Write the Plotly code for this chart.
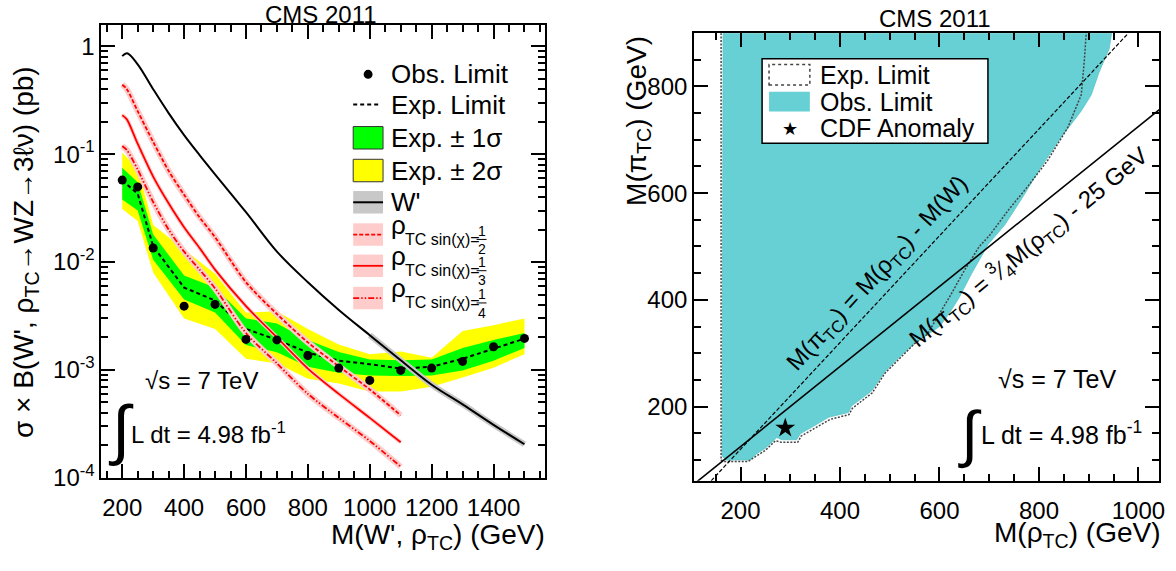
import plotly.graph_objects as go

W, H = 1176, 571
FONT = "Liberation Sans, Arial, Helvetica, sans-serif"

# ---------------- left panel data ----------------
mass = [200, 250, 300, 400, 500, 600, 700, 800, 900, 1000, 1100, 1200, 1300, 1400, 1500]
obs_limit = [0.0575, 0.0497, 0.0135, 0.0039, 0.00405, 0.00192, 0.0019, 0.00136, 0.00104,
             0.0008, 0.00099, 0.00104, 0.0012, 0.00164, 0.00196]
exp_limit = [0.057, 0.043, 0.014, 0.0058, 0.0044, 0.0024, 0.0019, 0.00145, 0.00122,
             0.00113, 0.00103, 0.00107, 0.00127, 0.00158, 0.00195]
exp_1s_lo = [0.038, 0.030, 0.0105, 0.0045, 0.0034, 0.0017, 0.00146, 0.00107, 0.00094,
             0.00089, 0.00088, 0.00089, 0.00099, 0.00122, 0.0016]
exp_1s_hi = [0.075, 0.055, 0.018, 0.0075, 0.0058, 0.0030, 0.0027, 0.0019, 0.00147,
             0.00125, 0.00123, 0.00125, 0.0016, 0.0019, 0.0022]
exp_2s_lo = [0.031, 0.024, 0.0080, 0.0030, 0.0024, 0.00127, 0.00115, 0.00083, 0.00075,
             0.00063, 0.00063, 0.0007, 0.00085, 0.00105, 0.0014]
exp_2s_hi = [0.103, 0.075, 0.022, 0.013, 0.0078, 0.0034, 0.0035, 0.0024, 0.00172,
             0.0014, 0.00148, 0.0013, 0.0023, 0.0026, 0.0030]

wprime_mass = [200, 216, 250, 300, 350, 400, 450, 500, 600, 700, 800, 900, 1000, 1100,
               1200, 1300, 1400, 1500]
wprime_xsec = [0.81, 0.86, 0.68, 0.40, 0.24, 0.15, 0.098, 0.065, 0.029, 0.0125, 0.0065,
               0.0036, 0.0021, 0.00123, 0.00073, 0.00048, 0.00031, 0.000205]

rho_mass = [200, 215, 250, 300, 350, 400, 450, 500, 600, 700, 800, 900, 1000, 1100]
rho_sin_half = [0.44, 0.40, 0.25, 0.13, 0.070, 0.042, 0.026, 0.017, 0.0065, 0.0033,
                0.0018, 0.00108, 0.00066, 0.00038]
rho_sin_third = [0.23, 0.21, 0.125, 0.062, 0.035, 0.021, 0.0135, 0.0085, 0.0039, 0.0020,
                 0.00103, 0.00060, 0.00036, 0.000214]
rho_sin_quarter = [0.119, 0.109, 0.072, 0.036, 0.020, 0.0125, 0.0085, 0.0057, 0.0022,
                   0.00115, 0.00060, 0.00036, 0.00022, 0.000127]

x_ticks_left = [200, 400, 600, 800, 1000, 1200, 1400]
y_ticks_left = [1e-4, 1e-3, 1e-2, 1e-1, 1]
y_ticktext_left = ["10<sup>-4</sup>", "10<sup>-3</sup>", "10<sup>-2</sup>", "10<sup>-1</sup>", "1"]

# ---------------- right panel data ----------------
obs_contour_rho = [165, 163, 170, 220, 230, 250, 273, 283, 313, 320, 350, 377, 417, 423,
                   463, 490, 523, 550, 600, 620, 640, 665, 698, 731, 765, 805, 845, 885,
                   905, 921, 941, 946, 165]
obs_contour_pi = [900, 108, 100, 100, 110, 122, 142, 138, 138, 149, 165, 180, 189, 201,
                  229, 265, 296, 318, 350, 375, 405, 450, 504, 540, 589, 650, 705, 754,
                  784, 827, 870, 900, 900]
exp_contour_rho = [161, 161, 168, 215, 228, 250, 270, 283, 315, 322, 350, 380, 418, 425,
                   465, 490, 523, 550, 575, 595, 620, 650, 680, 700, 740, 778, 818, 858,
                   885, 891, 895]
exp_contour_pi = [900, 100, 97, 97, 105, 118, 136, 133, 133, 145, 160, 176, 185, 197,
                  226, 262, 293, 318, 335, 365, 405, 455, 500, 520, 570, 613, 662, 723,
                  784, 846, 900]
mw_line_rho = [141, 980]
mw_line_pi = [61, 900]
frac_line_rho = [108, 1042]
frac_line_pi = [56, 756.5]
cdf_rho = [290]
cdf_pi = [160]

x_ticks_right = [200, 400, 600, 800, 1000]
y_ticks_right = [200, 400, 600, 800]


def fx(p):
    return p / W


def fy(p):
    return 1 - p / H


fig = go.Figure()

# ---- left panel traces ----
fig.add_trace(go.Scatter(x=mass + mass[::-1], y=exp_2s_hi + exp_2s_lo[::-1],
                         fill="toself", fillcolor="#ffff00", line=dict(width=0),
                         mode="lines", xaxis="x", yaxis="y", hoverinfo="skip"))
fig.add_trace(go.Scatter(x=mass + mass[::-1], y=exp_1s_hi + exp_1s_lo[::-1],
                         fill="toself", fillcolor="#00ff00", line=dict(width=0),
                         mode="lines", xaxis="x", yaxis="y", hoverinfo="skip"))
fig.add_trace(go.Scatter(x=mass, y=exp_limit, mode="lines",
                         line=dict(color="black", width=2, dash="4px,3px"),
                         xaxis="x", yaxis="y"))
# W' uncertainty band only visible at high mass
fig.add_trace(go.Scatter(x=wprime_mass[12:], y=wprime_xsec[12:], mode="lines",
                         line=dict(color="#c8c8c8", width=6, shape="spline", smoothing=0.8),
                         xaxis="x", yaxis="y"))
fig.add_trace(go.Scatter(x=wprime_mass, y=wprime_xsec, mode="lines",
                         line=dict(color="black", width=2, shape="spline", smoothing=1.0),
                         xaxis="x", yaxis="y"))
for vals, dash, pw in [(rho_sin_half, "4px,2px", 6), (rho_sin_third, "solid", 4),
                       (rho_sin_quarter, "6px,2px,1.5px,2px,1.5px,2px", 6)]:
    fig.add_trace(go.Scatter(x=rho_mass, y=vals, mode="lines",
                             line=dict(color="#ffcccc", width=pw, shape="spline", smoothing=0.8),
                             xaxis="x", yaxis="y"))
    fig.add_trace(go.Scatter(x=rho_mass, y=vals, mode="lines",
                             line=dict(color="#ff0000", width=1.8, dash=dash, shape="spline",
                                       smoothing=0.8),
                             xaxis="x", yaxis="y"))
fig.add_trace(go.Scatter(x=mass, y=obs_limit, mode="markers",
                         marker=dict(color="black", size=9), xaxis="x", yaxis="y"))

# ---- right panel traces ----
fig.add_trace(go.Scatter(x=obs_contour_rho, y=obs_contour_pi, fill="toself",
                         fillcolor="#66d0d4", line=dict(width=0.8, color="#5cc4c8"),
                         mode="lines", xaxis="x2", yaxis="y2"))
fig.add_trace(go.Scatter(x=exp_contour_rho, y=exp_contour_pi, mode="lines",
                         line=dict(color="#444444", width=1.5, dash="2px,1.5px"),
                         xaxis="x2", yaxis="y2"))
fig.add_trace(go.Scatter(x=mw_line_rho, y=mw_line_pi, mode="lines",
                         line=dict(color="black", width=1.2, dash="4px,2px"),
                         xaxis="x2", yaxis="y2"))
fig.add_trace(go.Scatter(x=frac_line_rho, y=frac_line_pi, mode="lines",
                         line=dict(color="black", width=1.6),
                         xaxis="x2", yaxis="y2"))
fig.add_trace(go.Scatter(x=cdf_rho, y=cdf_pi, mode="markers",
                         marker=dict(symbol="star", color="black", size=15),
                         xaxis="x2", yaxis="y2"))

axis_common = dict(showline=True, linewidth=2, linecolor="black", mirror="allticks",
                   ticks="inside", ticklen=14, tickwidth=2, tickcolor="black",
                   showgrid=False, zeroline=False,
                   tickfont=dict(family=FONT, size=24, color="black"))
minor_common = dict(tickmode="array", ticks="inside", ticklen=7, tickwidth=2,
                    tickcolor="black")

minor_y_left = [k * 10 ** e for e in range(-4, 0) for k in range(2, 10)]

fig.update_layout(
    width=W, height=H, margin=dict(l=0, r=0, t=0, b=0), autosize=False,
    paper_bgcolor="white", plot_bgcolor="white", showlegend=False,
    xaxis=dict(domain=[fx(102), fx(548)], range=[133, 1567], anchor="y",
               tickmode="array", tickvals=x_ticks_left, ticklabelstandoff=7,
               minor=dict(tickvals=list(range(150, 1551, 50)), **minor_common),
               **axis_common),
    yaxis=dict(domain=[fy(489), fy(26)], type="log", range=[-4, 0.193], anchor="x",
               tickmode="array", tickvals=y_ticks_left, ticktext=y_ticktext_left,
               minor=dict(tickvals=minor_y_left, **minor_common),
               **axis_common),
    xaxis2=dict(domain=[fx(697.7), fx(1165)], range=[106.8, 1041.4], anchor="y2",
                tickmode="array", tickvals=x_ticks_right, ticklabelstandoff=7,
                minor=dict(tickvals=list(range(150, 1041, 50)), **minor_common),
                **axis_common),
    yaxis2=dict(domain=[fy(492), fy(34)], range=[61, 899.5], anchor="x2",
                tickmode="array", tickvals=y_ticks_right,
                minor=dict(tickvals=list(range(100, 900, 50)), **minor_common),
                **axis_common),
)

shapes = []
annotations = []


def text(x, y, s, size, xanchor="left", yanchor="middle", angle=0):
    annotations.append(dict(xref="paper", yref="paper", x=fx(x), y=fy(y), text=s,
                            showarrow=False, xanchor=xanchor, yanchor=yanchor,
                            textangle=angle, borderpad=0,
                            font=dict(family=FONT, size=size, color="black")))


def rect(x0, y0, x1, y1, fill, line_color=None, line_width=0, dash=None):
    ln = dict(width=line_width)
    if line_color:
        ln["color"] = line_color
    if dash:
        ln["dash"] = dash
    shapes.append(dict(type="rect", xref="paper", yref="paper", x0=fx(x0), x1=fx(x1),
                       y0=fy(y1), y1=fy(y0), fillcolor=fill, line=ln, layer="above"))


def hline(x0, x1, y, color, width, dash="solid"):
    shapes.append(dict(type="line", xref="paper", yref="paper", x0=fx(x0), x1=fx(x1),
                       y0=fy(y), y1=fy(y), line=dict(color=color, width=width, dash=dash),
                       layer="above"))


# ---- titles ----
text(323, 0, "CMS 2011", 24, xanchor="center", yanchor="top")
text(940, 19, "CMS 2011", 24, xanchor="center")

# ---- left axis titles ----
text(549, 549, "M(W', ρ<sub>TC</sub>) (GeV)", 28, xanchor="right")
text(25, 258, "σ × B(W', ρ<sub>TC</sub>→WZ→3ℓν) (pb)", 28, xanchor="center",
     yanchor="middle", angle=-90)

# ---- right axis titles ----
text(1167, 547, "M(ρ<sub>TC</sub>) (GeV)", 28, xanchor="right")
text(641, 124, "M(π<sub>TC</sub>) (GeV)", 28, xanchor="center", yanchor="middle", angle=-90)

# ---- left legend ----
lx0, lx1, tx = 355, 385, 392
shapes.append(dict(type="circle", xref="paper", yref="paper", x0=fx(365.5), x1=fx(374.5),
                   y0=fy(80.5), y1=fy(71.5), fillcolor="black", line=dict(width=0),
                   layer="above"))
text(tx, 76, "Obs. Limit", 26)
hline(lx0, 383, 107, "black", 2, "4px,3px")
text(tx, 107, "Exp. Limit", 26)
rect(lx0, 129.5, lx1, 152.5, "#00ff00", "#333333", 1)
text(tx, 141, "Exp. ± 1σ", 26)
rect(lx0, 163, lx1, 186, "#ffff00", "#333333", 1)
text(tx, 174.5, "Exp. ± 2σ", 26)
rect(lx0, 195.5, lx1, 218.5, "#c8c8c8")
hline(lx0, lx1, 207, "black", 2)
text(tx, 207, "W'", 26)
for c, dash, den in [(240, "4px,2px", "2"), (272, "solid", "3"),
                     (305, "6px,2px,1.5px,2px,1.5px,2px", "4")]:
    rect(lx0, c - 11.5, lx1, c + 11.5, "#ffcccc")
    hline(lx0, lx1, c, "#ff0000", 1.8, dash)
    text(tx, c - 10, "ρ", 26)
    text(406, c + 5, "TC sin(χ)=", 16)
    text(484, c - 4, "1", 14, xanchor="center")
    hline(479, 489, c + 5, "black", 1)
    text(484, c + 15, den, 14, xanchor="center")

# ---- left energy / lumi ----
text(145, 389, "√s = 7 TeV", 24)
text(122, 439, "∫", 66, xanchor="center")
text(131, 443, "L dt = 4.98 fb<sup>-1</sup>", 24)

# ---- right legend ----
rect(766, 60, 993, 146.5, "white", "black", 1.5)
rect(773, 66, 814, 87, "white", "#444444", 1.5, "dot")
text(823, 76.5, "Exp. Limit", 25)
rect(773, 94, 814, 114, "#66d0d4")
text(823, 104, "Obs. Limit", 25)
text(794, 132, "★", 18, xanchor="center")
text(823, 130.5, "CDF Anomaly", 25)

# ---- right diagonal labels ----
text(883, 280, "M(π<sub>TC</sub>) = M(ρ<sub>TC</sub>) - M(W)", 24, xanchor="center",
     angle=-47.5)
text(1034, 253, "M(π<sub>TC</sub>) = <sup>3</sup>⁄<sub>4</sub>M(ρ<sub>TC</sub>) - 25 GeV", 24,
     xanchor="center", angle=-39.3)

# ---- right energy / lumi ----
text(1002, 388, "√s = 7 TeV", 25)
text(975, 444, "∫", 62, xanchor="center")
text(985, 443, "L dt = 4.98 fb<sup>-1</sup>", 25)

fig.update_layout(shapes=shapes, annotations=annotations)
fig.write_html("out.html", config={"displayModeBar": False})
